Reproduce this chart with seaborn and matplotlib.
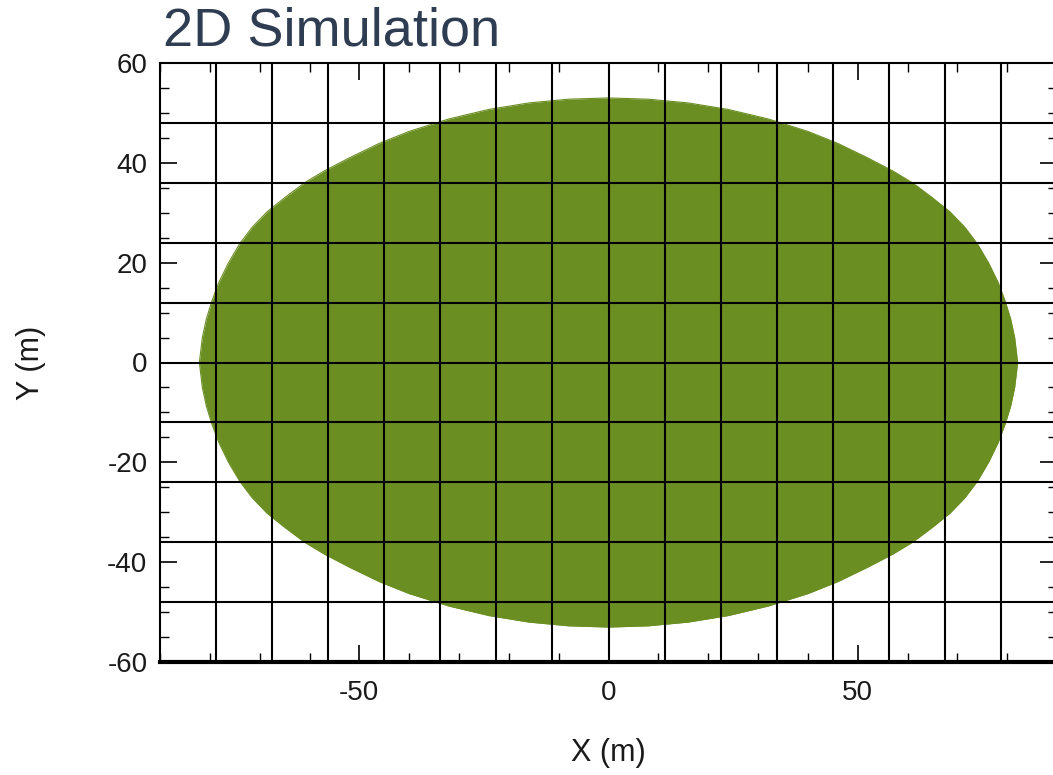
import numpy as np
import pandas as pd
import matplotlib
matplotlib.use("Agg")
import matplotlib.pyplot as plt
import seaborn as sns
from matplotlib.ticker import MultipleLocator, FixedLocator

# Upper boundary of the simulated region (right half)
half_x = [0, 8, 16, 24, 32, 40, 46, 52, 57, 61, 65, 68.5, 71.5, 74, 76.3, 78.2, 79.6, 80.7, 81.5, 82.1]
half_y = [53, 52.75, 52.0, 50.7, 48.8, 46.3, 43.9, 41.0, 38.4, 36.0, 33.0, 30.2, 27.1, 23.8,
          19.9, 16.0, 12.3, 8.7, 5.0, 0.0]

x_major_ticks = [-50, 0, 50]
y_major_ticks = [-60, -40, -20, 0, 20, 40, 60]
title_text = "2D Simulation"
x_label = "X (m)"
y_label = "Y (m)"

sns.set_style("ticks")
plt.rcParams["font.family"] = ["Liberation Sans", "DejaVu Sans"]
plt.rcParams["axes.unicode_minus"] = False

green = "#6b8e23"

xs = np.array([-v for v in reversed(half_x[1:])] + half_x, dtype=float)
ys = np.array(list(reversed(half_y[1:])) + half_y, dtype=float)
df = pd.DataFrame({"x": xs, "upper": ys, "lower": -ys})

fig = plt.figure(figsize=(10.53, 7.75), dpi=100)
ax = fig.add_axes([160 / 1053, 113 / 775, 897 / 1053, 599 / 775])

ax.fill_between(df["x"], df["lower"], df["upper"], color=green, lw=0, zorder=1)
sns.lineplot(data=df, x="x", y="upper", color=green, lw=0.8, ax=ax,
             sort=False, estimator=None, zorder=1)
sns.lineplot(data=df, x="x", y="lower", color=green, lw=0.8, ax=ax,
             sort=False, estimator=None, zorder=1)

xmin, xmax, ymin, ymax = -90, 90, -60, 60
ax.set_xlim(xmin, xmax)
ax.set_ylim(ymin, ymax)

# grid (independent of ticks): 16 columns, 10 rows
ax.vlines(np.linspace(xmin, xmax, 17)[1:-1], ymin, ymax, color="black", lw=1.5, zorder=2)
ax.hlines(np.linspace(ymin, ymax, 11)[1:-1], xmin, xmax, color="black", lw=1.5, zorder=2)

ax.xaxis.set_major_locator(FixedLocator(x_major_ticks))
ax.yaxis.set_major_locator(FixedLocator(y_major_ticks))
ax.xaxis.set_minor_locator(MultipleLocator(10))
ax.yaxis.set_minor_locator(MultipleLocator(5))

ax.tick_params(which="both", direction="in", top=True, right=True,
               labeltop=False, labelright=False, colors="black")
ax.tick_params(which="major", length=12, width=1.2, labelsize=20, labelcolor="#1a1a1a")
ax.tick_params(axis="x", which="major", pad=13)
ax.tick_params(axis="y", which="major", pad=9)
ax.tick_params(which="minor", length=6.5, width=1.0)

for side, lw in [("top", 1.5), ("bottom", 3.0), ("left", 1.5), ("right", 1.5)]:
    ax.spines[side].set_linewidth(lw)
    ax.spines[side].set_color("black")
    ax.spines[side].set_zorder(3)

ax.set_xlabel(x_label, fontsize=22, color="#1a1a1a")
ax.set_ylabel(y_label, fontsize=22, color="#1a1a1a")
ax.xaxis.set_label_coords(0.5, (662 - 738) / 599)
ax.yaxis.set_label_coords((46 - 160) / 897, 0.5)

fig.text(163 / 1053, 1 - 45 / 775, title_text, fontsize=39, color="#2f3d52",
         ha="left", va="baseline")

fig.savefig("out.png", dpi=100)
